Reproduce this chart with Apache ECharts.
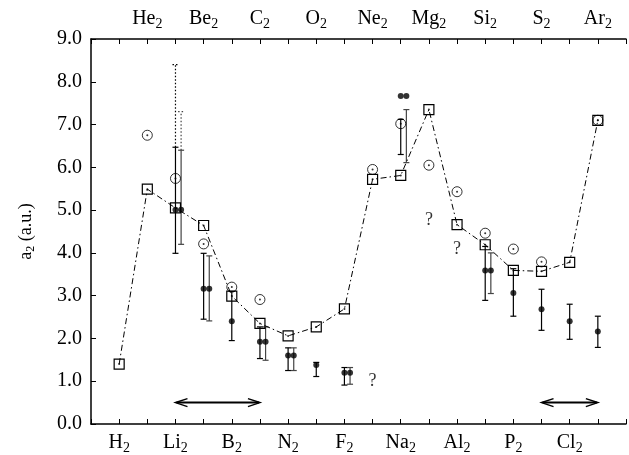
<!DOCTYPE html>
<html><head><meta charset="utf-8">
<script src="https://cdn.jsdelivr.net/npm/echarts@6/dist/echarts.min.js"></script>
<style>html,body{margin:0;padding:0;background:#fff}#c{width:629px;height:455px}</style>
</head><body><div id="c"></div>
<script>
// Molecule element symbols (each is a homonuclear dimer X2), index 0..17
const elements = ['H','He','Li','Be','B','C','N','O','F','Ne','Na','Mg','Al','Si','P','S','Cl','Ar'];
const yTickValues = [0,1,2,3,4,5,6,7,8,9];
// Open squares joined by dash-dot line
const squares = [1.40,5.49,5.05,4.64,2.99,2.35,2.06,2.27,2.69,5.72,5.81,7.35,4.66,4.19,3.59,3.57,3.78,7.10];
// Open circles
const circles = [null,6.75,5.74,4.21,3.20,2.91,null,null,null,5.95,7.02,6.05,5.43,4.46,4.09,3.79,null,7.10];
// Filled points: [moleculeIndex, value]; second set drawn slightly to the right
const dotsA = [[2,5.01],[3,3.16],[4,2.40],[5,1.92],[6,1.60],[7,1.38],[8,1.20],[10,7.67],[13,3.59],[14,3.06],[15,2.68],[16,2.40],[17,2.16]];
const dotsB = [[2,5.01],[3,3.16],[5,1.92],[6,1.60],[8,1.20],[10,7.67],[13,3.59]];
// Error bars: [moleculeIndex, low, high]
const barsA = [[2,3.99,6.47],[3,2.45,3.99],[4,1.95,3.10],[5,1.53,2.27],[6,1.25,1.78],[7,1.11,1.44],[8,0.91,1.32],[10,6.30,7.12],[13,2.89,4.15],[14,2.52,3.63],[15,2.19,3.15],[16,1.98,2.80],[17,1.79,2.52]];
const barsB = [[2,4.20,6.40],[3,2.41,3.93],[5,1.49,2.27],[6,1.25,1.78],[8,0.93,1.32],[10,6.11,7.35],[13,3.05,4.00]];
// Dotted upper extensions: [moleculeIndex, low, high]
const extA = [[2,6.47,8.40]];
const extB = [[2,6.40,7.30]];
// Question marks: [moleculeIndex, value]
const questions = [[9,1.0],[11,4.77],[12,4.08]];
// Double arrows: [fromIndex, toIndex, value]
const arrows = [[2,5,0.5],[15,17,0.5]];

const OFFSET = 0.2;
const FONT = 'Liberation Serif';
const rich = {
  b: {fontFamily: FONT, fontSize: 20, color: '#000'},
  s: {fontFamily: FONT, fontSize: 14, color: '#000', padding: [10,0,0,0]}
};

function fmtX(parity) {
  return function (v) {
    if (Number.isInteger(v) && v >= 0 && v < elements.length && v % 2 === parity)
      return '{b|' + elements[v] + '}{s|2}';
    return '';
  };
}

function barRender(color, dashed, offset, drawLowCap) {
  return function (params, api) {
    const x = api.value(0) + offset;
    const lo = api.coord([x, api.value(1)]);
    const hi = api.coord([x, api.value(2)]);
    const w = 3;
    const st = {stroke: color, lineWidth: 1.2, fill: null};
    if (dashed) st.lineDash = [1.5, 2];
    const ch = [
      {type: 'line', shape: {x1: lo[0], y1: lo[1], x2: hi[0], y2: hi[1]}, style: st},
      {type: 'line', shape: {x1: hi[0] - w, y1: hi[1], x2: hi[0] + w, y2: hi[1]}, style: st}
    ];
    if (drawLowCap) ch.push({type: 'line', shape: {x1: lo[0] - w, y1: lo[1], x2: lo[0] + w, y2: lo[1]}, style: st});
    return {type: 'group', children: ch};
  };
}

function arrowRender(params, api) {
  const a = api.coord([api.value(0), api.value(2)]);
  const b = api.coord([api.value(1), api.value(2)]);
  const L = 12, H = 4;
  const st = {stroke: '#000', lineWidth: 2, fill: null};
  const hs = {stroke: '#000', lineWidth: 1.5, fill: null};
  return {type: 'group', children: [
    {type: 'line', shape: {x1: a[0] + 1, y1: a[1], x2: b[0] - 1, y2: b[1]}, style: st},
    {type: 'polyline', shape: {points: [[a[0] + L, a[1] - H], [a[0], a[1]], [a[0] + L, a[1] + H]]}, style: hs},
    {type: 'polyline', shape: {points: [[b[0] - L, b[1] - H], [b[0], b[1]], [b[0] - L, b[1] + H]]}, style: hs}
  ]};
}

const xCommon = {
  type: 'value', min: -1, max: 18, interval: 1,
  axisLine: {show: true, onZero: false, lineStyle: {color: '#000', width: 1.5}},
  axisTick: {show: true, inside: true, length: 5, lineStyle: {color: '#000', width: 1}},
  splitLine: {show: false}
};

const chart = echarts.init(document.getElementById('c'), null, {renderer: 'canvas'});
chart.setOption({
  animation: false,
  backgroundColor: '#fff',
  grid: {left: 91, top: 39, bottom: 29, right: -6},
  xAxis: [
    Object.assign({}, xCommon, {position: 'bottom', axisLabel: {margin: 7, formatter: fmtX(0), rich: rich}}),
    Object.assign({}, xCommon, {position: 'top', axisLabel: {margin: 8, formatter: fmtX(1), rich: rich}})
  ],
  yAxis: {
    type: 'value', min: yTickValues[0], max: yTickValues[yTickValues.length - 1], interval: 1,
    name: '{b|a}{s|2}{b| (a.u.)}', nameLocation: 'middle', nameGap: 54, nameRotate: 90,
    nameTextStyle: {rich: {b: {fontFamily: FONT, fontSize: 18, color: '#000'}, s: {fontFamily: FONT, fontSize: 12, color: '#000', padding: [10,0,0,0]}}},
    axisLine: {show: true, onZero: false, lineStyle: {color: '#000', width: 1.5}},
    axisTick: {show: true, inside: true, length: 5, lineStyle: {color: '#000', width: 1}},
    axisLabel: {margin: 9, fontFamily: FONT, fontSize: 20, color: '#000', formatter: v => v.toFixed(1)},
    splitLine: {show: false}
  },
  series: [
    {type: 'custom', renderItem: barRender('#000', true, 0, false), data: extA, encode: {x: 0, y: [1, 2]}, z: 3},
    {type: 'custom', renderItem: barRender('#444', true, OFFSET, false), data: extB, encode: {x: 0, y: [1, 2]}, z: 3},
    {type: 'custom', renderItem: barRender('#000', false, 0, true), data: barsA, encode: {x: 0, y: [1, 2]}, z: 3},
    {type: 'custom', renderItem: barRender('#444', false, OFFSET, true), data: barsB, encode: {x: 0, y: [1, 2]}, z: 3},
    {type: 'line', data: squares.map((v, i) => [i, v]), symbol: 'rect', symbolSize: 10,
      itemStyle: {color: 'rgba(0,0,0,0)', borderColor: '#000', borderWidth: 1.2},
      lineStyle: {color: '#000', width: 1, type: [6, 3, 1.5, 3]}, z: 4},
    {type: 'scatter', data: circles.map((v, i) => v == null ? null : [i, v]).filter(d => d), symbol: 'circle', symbolSize: 10,
      itemStyle: {color: 'rgba(0,0,0,0)', borderColor: '#000', borderWidth: 1}, z: 4},
    {type: 'scatter', data: squares.map((v, i) => [i, v]).concat(circles.map((v, i) => v == null ? null : [i, v]).filter(d => d)),
      symbol: 'circle', symbolSize: 2, itemStyle: {color: '#000'}, z: 5},
    {type: 'scatter', data: dotsA, symbol: 'circle', symbolSize: 6, itemStyle: {color: '#000'}, z: 6},
    {type: 'scatter', data: dotsB.map(d => [d[0] + OFFSET, d[1]]), symbol: 'circle', symbolSize: 6, itemStyle: {color: '#000'}, z: 6},
    {type: 'scatter', data: questions, symbolSize: 1, itemStyle: {color: 'rgba(0,0,0,0)'},
      label: {show: true, position: 'inside', formatter: '?', fontFamily: FONT, fontSize: 18, color: '#000'}, z: 6},
    {type: 'custom', renderItem: arrowRender, data: arrows, encode: {x: [0, 1], y: 2}, z: 6}
  ]
});
</script></body></html>
